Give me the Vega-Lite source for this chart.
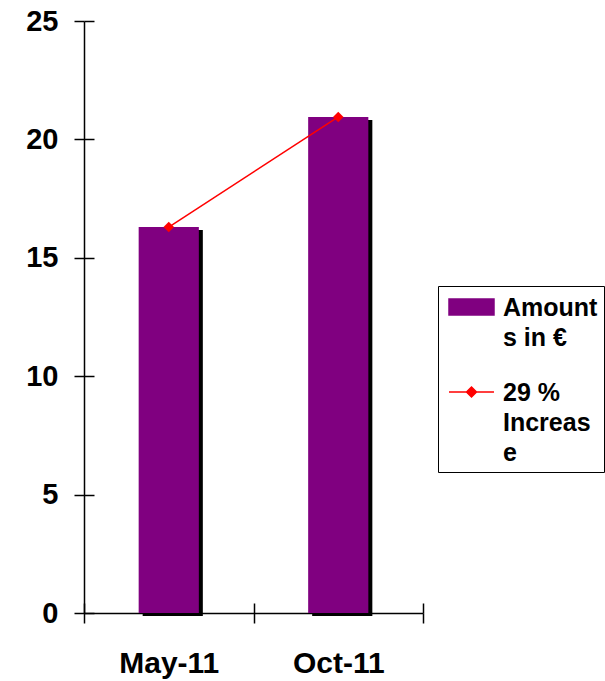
{
  "$schema": "https://vega.github.io/schema/vega-lite/v6.json",
  "width": 339,
  "height": 592,
  "autosize": "none",
  "padding": {"left": 84, "top": 21, "right": 182, "bottom": 68},
  "background": "white",
  "config": {"view": {"stroke": null}, "font": "Liberation Sans"},
  "data": {"values": [
    {"month": "May-11", "amount": 16.3},
    {"month": "Oct-11", "amount": 20.95}
  ]},
  "layer": [
    {
      "mark": {"type": "bar", "color": "black", "width": {"band": 0.355}, "xOffset": 4, "yOffset": 3},
      "encoding": {
        "x": {"field": "month", "type": "nominal", "axis": null, "scale": {"paddingInner": 0, "paddingOuter": 0}},
        "y": {"field": "amount", "type": "quantitative", "axis": null, "scale": {"domain": [0, 25], "nice": false}}
      }
    },
    {
      "mark": {"type": "bar", "width": {"band": 0.355}},
      "encoding": {
        "x": {"field": "month", "type": "nominal",
          "axis": {"orient": "bottom", "tickBand": "extent", "domainColor": "black", "domainWidth": 1.5, "tickColor": "black", "tickWidth": 1.5, "tickSize": 10, "labelFontSize": 30, "labelFontWeight": "bold", "labelColor": "black", "labelPadding": 25, "labelAngle": 0, "labelBaseline": "top", "title": null}},
        "y": {"field": "amount", "type": "quantitative",
          "axis": {"orient": "left", "values": [0, 5, 10, 15, 20, 25], "grid": false, "domainColor": "black", "domainWidth": 1.5, "tickColor": "black", "tickWidth": 1.5, "tickSize": 10, "labelFontSize": 29, "labelFontWeight": "bold", "labelColor": "black", "labelPadding": 16, "title": null}},
        "color": {"datum": "Amounts in €",
          "scale": {"domain": ["Amounts in €", "29 % Increase"], "range": ["#800080", "#ff0000"]},
          "legend": {
            "title": null, "orient": "none", "legendX": 354, "legendY": 265,
            "strokeColor": "black", "fillColor": "white", "padding": 6, "symbolOffset": 12.5,
            "labelFontSize": 25, "labelFontWeight": "bold", "labelColor": "black", "labelBaseline": "top",
            "labelOffset": 16.5, "labelLimit": 300, "rowPadding": 26, "symbolSize": 784,
            "labelExpr": "datum.label == 'Amounts in €' ? ['Amount', 's in €'] : ['29 %', 'Increas', 'e']",
            "encode": {
              "symbols": {"update": {
                "shape": {"signal": "datum.value == 'Amounts in €' ? 'M-1.607,-0.571H1.607V0.571H-1.607Z' : 'M-1.607,0H1.607M-0.357,0L0,-0.357L0.357,0L0,0.357Z'"},
                "fill": {"signal": "datum.value == 'Amounts in €' ? '#800080' : '#ff0000'"},
                "stroke": {"signal": "datum.value == 'Amounts in €' ? 'transparent' : '#ff0000'"},
                "strokeWidth": {"signal": "1.5"},
                "opacity": {"signal": "1"}
              }},
              "labels": {"update": {"lineHeight": {"signal": "30"}, "dy": {"signal": "-11"}}}
            }
          }
        }
      }
    },
    {
      "mark": {"type": "line", "strokeWidth": 1.5, "point": {"shape": "diamond", "filled": true, "size": 110}},
      "encoding": {
        "x": {"field": "month", "type": "nominal",
          "axis": {"orient": "bottom", "tickBand": "extent", "domain": false, "labels": false, "tickColor": "black", "tickWidth": 1.5, "tickSize": -10, "title": null}},
        "y": {"field": "amount", "type": "quantitative",
          "axis": {"orient": "left", "values": [0, 5, 10, 15, 20, 25], "grid": false, "domain": false, "labels": false, "tickColor": "black", "tickWidth": 1.5, "tickSize": -10, "title": null}},
        "color": {"datum": "29 % Increase"}
      }
    }
  ],
  "resolve": {"axis": {"x": "independent", "y": "independent"}}
}
